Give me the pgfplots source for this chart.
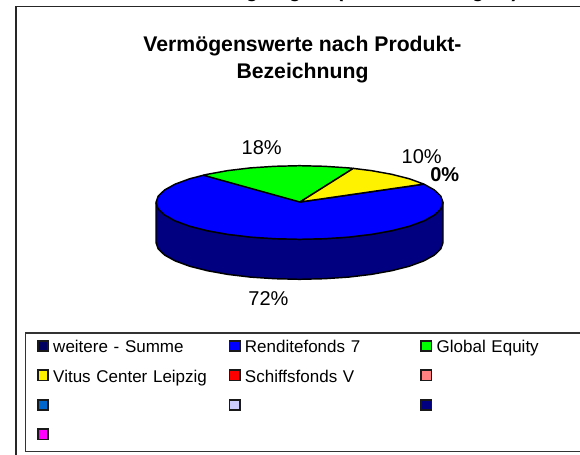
\documentclass[border=0pt]{standalone}
\usepackage{fontspec}
\setmainfont{Liberation Sans}
\usepackage{pgfplots}
\pgfplotsset{compat=1.18}
\definecolor{wall}{HTML}{000080}
\definecolor{weitere}{HTML}{000060}
\definecolor{salmon}{HTML}{FF8080}
\definecolor{midblue}{HTML}{0066CC}
\definecolor{lilac}{HTML}{CCCCFF}
\definecolor{pink}{HTML}{FF00FF}
\pgfplotsset{
    swatch/.style={
        legend image code/.code={
            \draw[##1,draw=black!90,line width=1.3pt] (0pt,-2.4pt) rectangle (7.8pt,5.4pt);
        }
    }
}
\begin{document}
\begin{tikzpicture}
    \path[use as bounding box] (0,0) rectangle (435pt,340.5pt);
    \begin{axis}[
        scale only axis,
        width=435pt,
        height=340.5pt,
        xmin=0,xmax=580,
        ymin=0,ymax=454,
        hide axis,
        clip=false,
        swatch,
        title={\bfseries Vermögenswerte nach Produkt-\\\bfseries Bezeichnung},
        title style={at={(axis cs:302.5,386.5)},anchor=center,align=center,
                     font=\fontsize{15.9}{20.2}\selectfont},
        legend columns=3,
        legend cell align=left,
        legend style={
            at={(axis cs:24.5,121.7)},anchor=north west,
            draw=black!80,line width=0.9pt,fill=white,
            inner xsep=8.8pt,inner ysep=5pt,
            font=\fontsize{12.75}{15}\selectfont,
            row sep=9.6pt,
            nodes={text width=131.5pt,align=left,text height=10pt,text depth=2.5pt,inner xsep=0pt,inner ysep=0pt},
            /tikz/every odd column/.append style={column sep=3.2pt},
            /tikz/every even column/.append style={column sep=0pt}
        }]

        % seitenwand
        \addplot[fill=wall,draw=black,line width=1.1pt,line join=round,forget plot]
            coordinates {
                (156.0,251.5) (158.2,245.1) (164.7,238.9) (175.2,233.1) (189.6,227.8)
                (207.3,223.3) (227.8,219.6) (250.4,216.9) (274.6,215.3) (299.5,214.7)
                (324.4,215.3) (348.6,216.9) (371.2,219.6) (391.7,223.3) (409.4,227.8)
                (423.8,233.1) (434.3,238.9) (440.8,245.1) (443.0,251.5)
                (443.0,211.5) (440.8,205.1) (434.3,198.9) (423.8,193.1) (409.4,187.8)
                (391.7,183.3) (371.2,179.6) (348.6,176.9) (324.4,175.3) (299.5,174.7)
                (274.6,175.3) (250.4,176.9) (227.8,179.6) (207.3,183.3) (189.6,187.8)
                (175.2,193.1) (164.7,198.9) (158.2,205.1) (156.0,211.5) (156.0,251.5)
            };

        % Renditefonds 7
        \addplot[fill=blue,draw=black,line width=1.1pt,line join=round,forget plot]
            coordinates {
                (300,252) (423.8,269.9) (434.3,264.1) (440.8,257.9) (443.0,251.5)
                (440.8,245.1) (434.3,238.9) (423.8,233.1) (409.4,227.8) (391.7,223.3)
                (371.2,219.6) (348.6,216.9) (324.4,215.3) (299.5,214.7) (274.6,215.3)
                (250.4,216.9) (227.8,219.6) (207.3,223.3) (189.6,227.8) (175.2,233.1)
                (164.7,238.9) (158.2,245.1) (156.0,251.5) (158.2,257.9) (164.7,264.1)
                (175.2,269.9) (189.6,275.2) (203.5,278.8) (300,252)
            };
        % Global Equity
        \addplot[fill=green,draw=black,line width=1.1pt,line join=round,forget plot]
            coordinates {
                (300,252) (203.5,278.8) (207.3,279.7) (227.8,283.4) (250.4,286.1)
                (274.6,287.7) (299.5,288.3) (324.4,287.7) (348.6,286.1) (353.3,285.6)
                (300,252)
            };
        % Vitus Center Leipzig
        \addplot[fill=yellow,draw=black,line width=1.1pt,line join=round,forget plot]
            coordinates {
                (300,252) (353.3,285.6) (371.2,283.4) (391.7,279.7) (409.4,275.2)
                (423.8,269.9) (300,252)
            };

        \addlegendimage{fill=weitere}\addlegendentry{weitere - Summe}
        \addlegendimage{fill=blue}\addlegendentry{Renditefonds 7}
        \addlegendimage{fill=green}\addlegendentry{Global Equity}
        \addlegendimage{fill=yellow}\addlegendentry{Vitus Center Leipzig}
        \addlegendimage{fill=red}\addlegendentry{Schiffsfonds V}
        \addlegendimage{fill=salmon}\addlegendentry{\mbox{}}
        \addlegendimage{fill=midblue}\addlegendentry{\mbox{}}
        \addlegendimage{fill=lilac}\addlegendentry{\mbox{}}
        \addlegendimage{fill=wall}\addlegendentry{\mbox{}}
        \addlegendimage{fill=pink}\addlegendentry{\mbox{}}

        \draw[black!85,line width=1.1pt] (axis cs:16,-6)--(axis cs:16,447.5)--(axis cs:590,447.5);

        \node[anchor=base,font=\fontsize{15}{18}\selectfont] at (axis cs:261.7,300) {18\%};
        \node[anchor=base,font=\fontsize{15}{18}\selectfont] at (axis cs:421.7,291) {10\%};
        \node[anchor=base,font=\fontsize{15}{18}\selectfont\bfseries] at (axis cs:444.7,273) {0\%};
        \node[anchor=base,font=\fontsize{15}{18}\selectfont] at (axis cs:268.5,149) {72\%};

        % angeschnittene Zeile am oberen Rand
        \node[anchor=base,font=\fontsize{15}{18}\selectfont\bfseries] at (axis cs:252,456.2) {g};
        \node[anchor=base,font=\fontsize{15}{18}\selectfont\bfseries] at (axis cs:295,456.2) {g};
        \node[anchor=base,font=\fontsize{15}{18}\selectfont\bfseries] at (axis cs:340,456.2) {(};
        \node[anchor=base,font=\fontsize{15}{18}\selectfont\bfseries] at (axis cs:478,456.2) {g};
        \node[anchor=base,font=\fontsize{15}{18}\selectfont\bfseries] at (axis cs:515,456.2) {)};
    \end{axis}
\end{tikzpicture}
\end{document}
